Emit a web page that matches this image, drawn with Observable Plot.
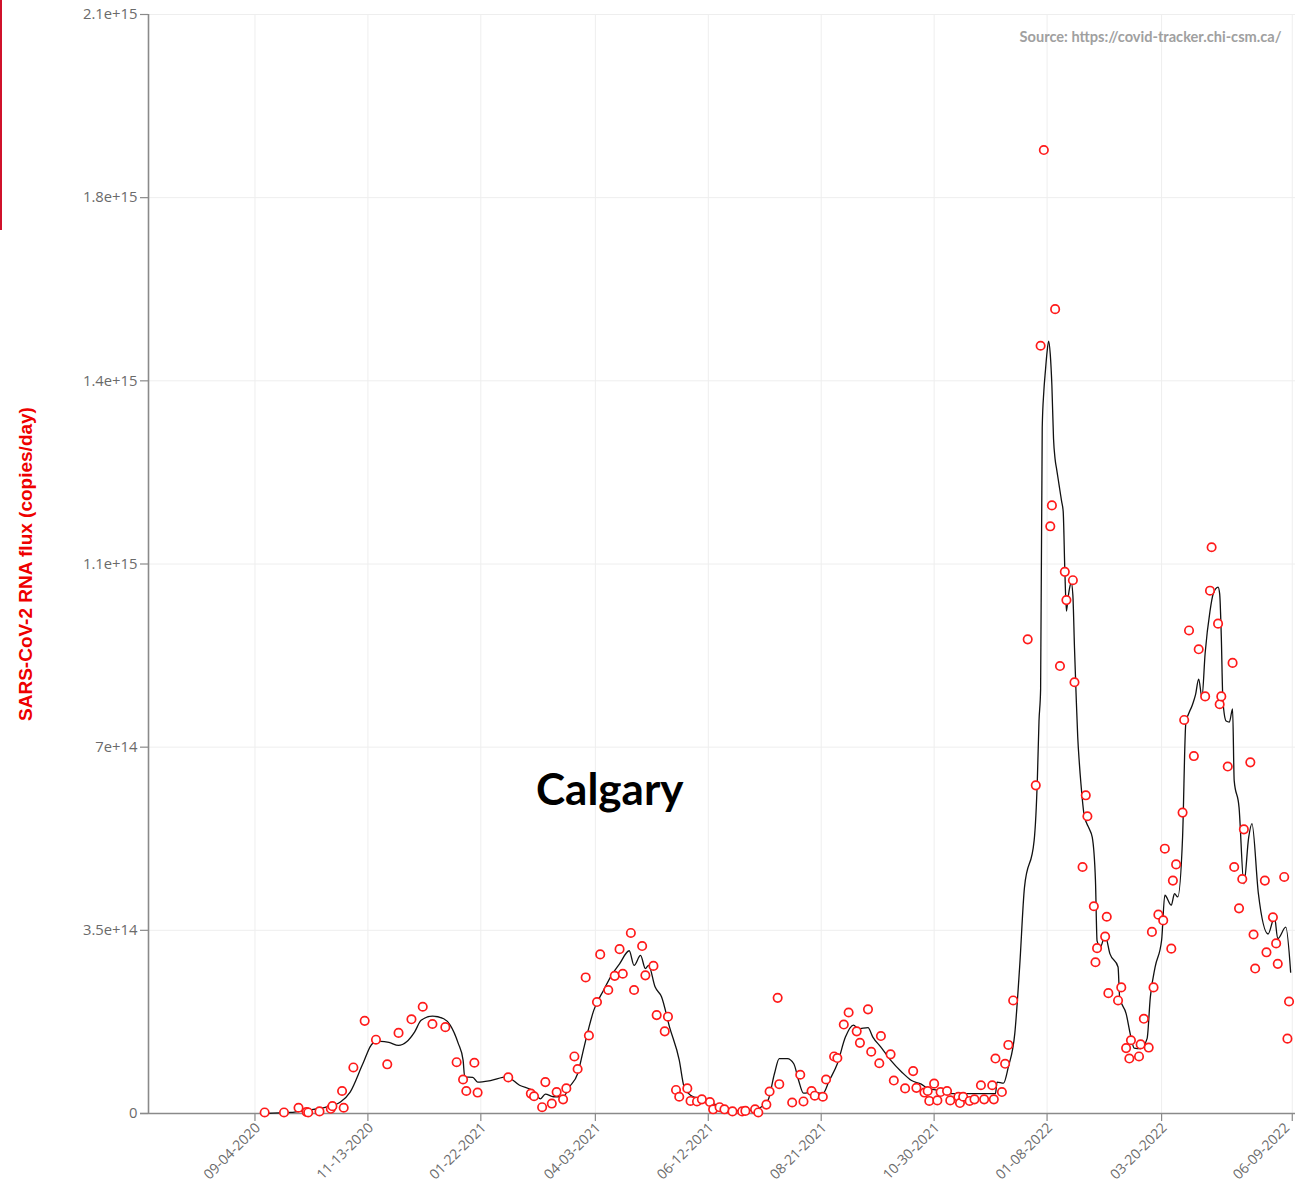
<!DOCTYPE html>
<html>
<head>
<meta charset="utf-8">
<script src="https://cdn.jsdelivr.net/npm/d3@7"></script>
<script src="https://cdn.jsdelivr.net/npm/@observablehq/plot@0.6"></script>
<style>
  html, body { margin: 0; padding: 0; background: #fff; }
  #wrap { position: relative; width: 1296px; height: 1183px; overflow: hidden; }
  #wrap::before { content: ""; position: absolute; left: 0; top: 0; width: 2px; height: 230px; background: #d0112b; z-index: 2; }
  #city { position: absolute; left: 536px; top: 766px; font-family: Lato, "Open Sans", sans-serif; font-weight: 700; font-size: 44px; color: #000; line-height: 1; }
  g[aria-label="y-axis label"] text { fill: #ee0000; font-weight: 700; font-size: 19px; font-family: "Liberation Sans", Arial, sans-serif; }
</style>
</head>
<body>
<div id="wrap"><div id="city">Calgary</div></div>
<script>
// ---- data (days since 2020-09-04, values in units of 1e14 copies/day) ----
const startDay = "2020-09-04";

const pointDays = [6,18,27,32,33,40,47,48,54,55,61,68,75,82,89,97,104,110,118,125,129,131,136,138,157,171,173,178,180,184,187,191,193,198,200,205,207,212,214,219,223,226,228,233,235,240,242,247,249,254,256,261,263,268,270,274,277,282,284,288,291,296,302,304,310,312,317,319,324,325,333,338,340,345,347,352,354,359,361,365,368,373,375,380,382,387,388,394,396,403,408,410,415,417,418,421,423,425,429,431,436,437,439,443,446,450,452,457,458,459,463,465,467,470,479,484,487,489,493,494,496,499,502,503,507,508,513,515,516,520,521,522,527,528,529,535,537,540,542,543,548,549,551,554,556,557,560,563,564,568,569,571,575,576,579,582,585,589,592,593,597,598,599,603,606,607,610,612,613,617,619,620,626,627,631,633,634,638,640,641];
const pointVals = [0.02,0.02,0.11,0.03,0.02,0.04,0.09,0.14,0.43,0.11,0.88,1.77,1.41,0.94,1.54,1.80,2.04,1.71,1.65,0.98,0.65,0.43,0.97,0.40,0.69,0.38,0.33,0.12,0.60,0.19,0.41,0.27,0.48,1.09,0.85,2.60,1.49,2.13,3.04,2.36,2.63,3.14,2.67,3.45,2.36,3.20,2.64,2.82,1.88,1.57,1.85,0.45,0.32,0.48,0.24,0.23,0.27,0.22,0.08,0.12,0.08,0.04,0.04,0.05,0.08,0.02,0.17,0.42,2.21,0.56,0.21,0.74,0.23,0.43,0.34,0.32,0.65,1.09,1.06,1.70,1.93,1.57,1.35,1.99,1.18,0.96,1.48,1.13,0.63,0.48,0.81,0.49,0.40,0.43,0.24,0.57,0.25,0.41,0.43,0.25,0.32,0.20,0.32,0.24,0.27,0.54,0.27,0.54,0.27,1.05,0.41,0.95,1.31,2.16,9.06,6.27,14.67,18.41,11.22,11.62,15.37,8.55,10.35,9.81,10.19,8.24,4.71,6.08,5.68,3.96,2.89,3.16,3.38,3.76,2.30,2.16,2.41,1.25,1.05,1.40,1.09,1.32,1.81,1.26,3.47,2.41,3.80,3.69,5.06,3.15,4.45,4.76,5.75,7.52,9.23,6.83,8.87,7.97,9.99,10.82,9.36,7.82,7.97,6.63,8.61,4.71,3.92,4.48,5.43,6.71,3.42,2.77,4.45,3.08,3.75,3.25,2.86,4.52,1.43,2.14];

const lineDays = [6,22,32,44,53,59,67,73,78,83,89,94,99,103,110,117,121,126,129,130,135,138,146,156,164,173,177,180,185,191,195,200,204,210,216,221,226,232,235,239,242,244,248,252,257,263,266,270,276,284,293,300,307,313,318,322,325,330,334,337,340,346,352,356,361,366,371,374,380,383,388,394,401,407,413,417,424,430,438,446,459,460,464,467,471,474,477,483,485,486,487,488,489,490,491,492,493,494,495,496,497,498,499,500,501,502,503,504,505,506,507,508,509,510,511,512,514,517,519,521,522,524,527,530,535,536,540,543,545,549,553,555,558,562,564,568,570,572,575,577,581,583,585,587,589,592,594,597,598,599,600,602,604,606,607,610,613,616,618,622,628,632,634,639,642];
const lineVals = [0.00,0.02,0.06,0.12,0.22,0.41,0.96,1.34,1.38,1.36,1.30,1.37,1.56,1.78,1.86,1.81,1.69,1.34,1.02,0.70,0.69,0.60,0.63,0.70,0.54,0.42,0.28,0.37,0.32,0.32,0.51,0.76,1.27,1.97,2.35,2.64,2.86,3.11,2.83,3.02,2.77,2.83,2.42,2.23,1.65,1.02,0.51,0.35,0.28,0.19,0.09,0.05,0.06,0.11,0.25,0.76,1.05,1.05,0.95,0.63,0.39,0.41,0.38,0.63,0.95,1.46,1.69,1.62,1.64,1.46,1.27,1.02,0.79,0.63,0.56,0.48,0.44,0.38,0.38,0.38,0.38,0.60,0.58,0.89,1.53,2.80,4.32,5.22,6.40,7.50,8.10,13.1,13.8,14.2,14.55,14.76,14.5,13.9,12.9,12.5,12.3,12.1,11.9,11.7,11.5,10.4,9.6,9.85,10.05,10.15,9.9,8.9,8.0,7.2,6.7,6.3,5.7,5.45,5.28,4.45,3.30,3.18,3.40,3.05,2.80,2.22,1.91,1.46,1.25,1.24,1.43,2.22,2.80,3.31,4.17,3.98,4.20,4.14,5.28,7.45,7.80,8.00,8.30,7.95,8.80,9.60,9.93,10.06,9.93,9.12,7.89,7.50,7.48,7.73,6.36,5.85,4.39,5.28,5.54,4.20,3.43,3.75,3.34,3.56,2.70];

const xTickDates = ["2020-09-04","2020-11-13","2021-01-22","2021-04-03","2021-06-12","2021-08-21","2021-10-30","2022-01-08","2022-03-20","2022-06-09"];
const xTickLabels = ["09-04-2020","11-13-2020","01-22-2021","04-03-2021","06-12-2021","08-21-2021","10-30-2021","01-08-2022","03-20-2022","06-09-2022"];
const yTicks = [0, 3.5e14, 7e14, 1.05e15, 1.4e15, 1.75e15, 2.1e15];
const yTickLabels = ["0","3.5e+14","7e+14","1.1e+15","1.4e+15","1.8e+15","2.1e+15"];
const xDomainDays = [-66, 645];

const yTitle = "SARS-CoV-2 RNA flux (copies/day)";
const sourceText = "Source: https://covid-tracker.chi-csm.ca/";

// ---- build tables ----
const t0 = Date.parse(startDay + "T00:00:00Z");
const toDate = d => new Date(t0 + d * 864e5);
const points = pointDays.map((d, i) => ({date: toDate(d), value: pointVals[i] * 1e14}));
const line = lineDays.map((d, i) => ({date: toDate(d), value: lineVals[i] * 1e14}));
const xTicks = xTickDates.map(s => new Date(s + "T00:00:00Z"));
const xLabelMap = new Map(xTicks.map((d, i) => [+d, xTickLabels[i]]));
const yLabelMap = new Map(yTicks.map((v, i) => [v, yTickLabels[i]]));
const xDomain = xDomainDays.map(toDate);
const xTicksMain = xTicks.slice(0, -1);
const xTicksLast = xTicks.slice(-1);

const axisGray = "#8a8a8a";
const labelGray = "#6a6a6a";
const xLabelOpts = {tickSize: 0, tickPadding: 12, tickRotate: -45, stroke: "none", fill: labelGray, fontSize: 14, label: null};
const chart = Plot.plot({
  width: 1296,
  height: 1183,
  marginLeft: 148,
  marginRight: 1,
  marginTop: 14,
  marginBottom: 70,
  style: {fontFamily: "'Open Sans', sans-serif", fontSize: "13px", color: labelGray, background: "transparent"},
  x: {type: "utc", domain: xDomain},
  y: {domain: [0, 2.1e15]},
  marks: [
    Plot.gridX(xTicks, {stroke: "#eeeeee", strokeOpacity: 1, strokeWidth: 1}),
    Plot.gridY(yTicks, {stroke: "#eeeeee", strokeOpacity: 1, strokeWidth: 1}),
    Plot.axisY(yTicks, {
      tickFormat: v => yLabelMap.get(v),
      tickSize: 8, tickPadding: 3, stroke: axisGray, strokeWidth: 1.2,
      fill: labelGray, fontSize: 14.8,
      label: yTitle, labelAnchor: "center", labelOffset: 130, labelArrow: "none"
    }),
    // x tick marks
    Plot.axisX(xTicks, {tickSize: 8, stroke: axisGray, strokeWidth: 1.2, text: null, label: null}),
    // x tick labels
    Plot.axisX(xTicksMain, {...xLabelOpts, tickFormat: d => xLabelMap.get(+d), dx: 3}),
    Plot.axisX(xTicksLast, {...xLabelOpts, tickFormat: d => xLabelMap.get(+d), dx: -5}),
    Plot.ruleY([0], {stroke: axisGray, strokeWidth: 1.6, insetLeft: -8}),
    Plot.ruleX([xDomain[0]], {stroke: axisGray, strokeWidth: 1.6}),
    Plot.line(line, {x: "date", y: "value", curve: "monotone-x", stroke: "#111", strokeWidth: 1.3}),
    Plot.dot(points, {x: "date", y: "value", r: 4.2, stroke: "#ff1a1a", strokeWidth: 1.7, fill: "white"}),
    Plot.text([sourceText], {frameAnchor: "top-right", dx: -14, dy: 17, text: d => d, fill: "#a0a0a0",
      fontWeight: 700, fontSize: 14.6, fontFamily: "Lato, 'Open Sans', sans-serif", textAnchor: "end"})
  ]
});
document.getElementById("wrap").prepend(chart);
</script>
</body>
</html>
